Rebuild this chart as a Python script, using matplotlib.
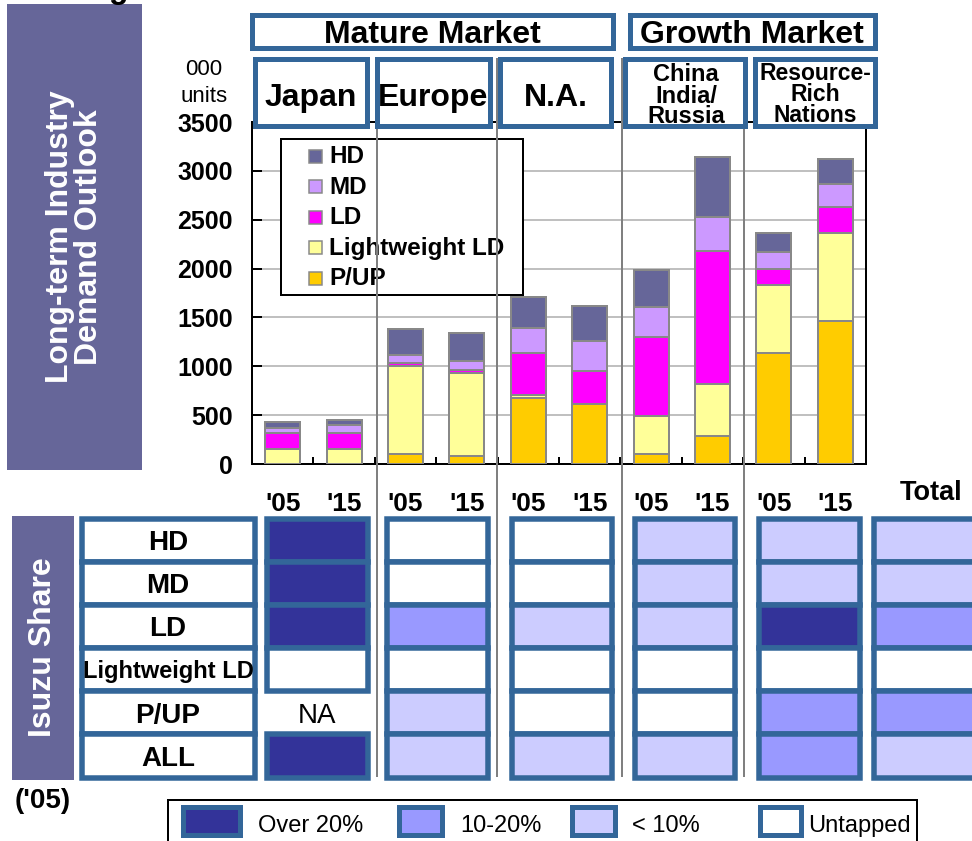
import numpy as np
import matplotlib
matplotlib.use("Agg")
import matplotlib.pyplot as plt
from matplotlib.patches import Rectangle

plt.rcParams['font.family'] = ['Liberation Sans', 'DejaVu Sans']

# ---------------- data ----------------
markets = ["Mature Market", "Growth Market"]
regions = ["Japan", "Europe", "N.A.", "China\nIndia/\nRussia", "Resource-\nRich\nNations"]
years = ["'05", "'15"]
segments = ["P/UP", "Lightweight LD", "LD", "MD", "HD"]          # bottom -> top
pup            = [0,   0,   102, 82,  672, 614, 102, 287,  1133, 1467]
lightweight_ld = [150, 150, 901, 853, 34,  0,   389, 532,  699,  901]
ld             = [170, 170, 28,  27,  433, 341, 806, 1364, 167,  259]
md             = [52,  76,  82,  95,  250, 304, 313, 348,  168,  239]
hd             = [61,  57,  266, 287, 323, 358, 376, 614,  201,  259]
seg_colors = ['#FFCC00', '#FFFF99', '#FF00FF', '#CC99FF', '#666699']

share_rows = ["HD", "MD", "LD", "Lightweight LD", "P/UP", "ALL"]
# 3 = Over 20%, 2 = 10-20%, 1 = < 10%, 0 = Untapped, None = NA
share_japan    = [3, 3, 3, 0, None, 3]
share_europe   = [0, 0, 2, 0, 1, 1]
share_na       = [0, 0, 1, 0, 0, 1]
share_china    = [1, 1, 1, 0, 0, 1]
share_resource = [1, 1, 3, 0, 2, 2]
share_total    = [1, 1, 2, 0, 2, 1]
share_levels = ["Untapped", "< 10%", "10-20%", "Over 20%"]
level_colors = ['#FFFFFF', '#CCCCFF', '#9999FF', '#333399']

# ---------------- figure ----------------
W, H = 972, 841
PT = 0.72  # points per pixel at dpi 100
BLUE = '#336699'
PURPLE = '#666699'
fig = plt.figure(figsize=(W / 100, H / 100), dpi=100)


def rect_px(l, t, r, b):
    return [l / W, 1 - b / H, (r - l) / W, (b - t) / H]


# ---------- bar chart ----------
ax = fig.add_axes(rect_px(252, 122, 866, 464))
data = [pup, lightweight_ld, ld, md, hd]
x = np.arange(len(pup))
bottom = np.zeros(len(pup))
for name, vals, c in zip(segments, data, seg_colors):
    vals = np.array(vals, dtype=float)
    ax.bar(x, vals, 0.57, bottom=bottom, color=c, edgecolor='#888888',
           linewidth=2 * PT, zorder=3, label=name)
    bottom += vals
ax.set_xlim(-0.5, len(pup) - 0.5)
ax.set_ylim(0, 3500)
yt = np.arange(0, 3501, 500)
ax.set_yticks(yt, labels=[str(v) for v in yt], fontsize=18, fontweight='bold')
ax.tick_params(axis='y', direction='in', length=7, width=2 * PT, pad=14)
bounds = np.arange(0.5, len(pup) - 1, 1.0)
ax.set_xticks(bounds, labels=[''] * len(bounds))
ax.set_xticks(x, labels=years * len(regions), minor=True, fontsize=19, fontweight='bold')
ax.tick_params(axis='x', which='major', direction='in', length=5, width=2 * PT)
ax.tick_params(axis='x', which='minor', length=0, pad=20)
ax.grid(axis='y', color='#C0C0C0', linewidth=2 * PT)
ax.set_axisbelow(True)
for s in ax.spines.values():
    s.set_linewidth(2 * PT)
    s.set_color('black')

# ---------- overlay in pixel coordinates ----------
ov = fig.add_axes([0, 0, 1, 1])
ov.set_xlim(0, W)
ov.set_ylim(H, 0)
ov.axis('off')


def box(l, t, r, b, fc='white', ec=BLUE, lw_px=5, z=3):
    h = lw_px / 2
    ov.add_patch(Rectangle((l + h, t + h), r - l - 2 * h, b - t - 2 * h,
                           facecolor=fc, edgecolor=ec, linewidth=lw_px * PT, zorder=z))


# left title panels
ov.add_patch(Rectangle((7, 4), 135, 466, facecolor=PURPLE, edgecolor='none', zorder=1))
ov.text(74.5, 237, "Long-term Industry\nDemand Outlook", rotation=90, color='white',
        fontsize=23, fontweight='bold', ha='center', va='center',
        multialignment='center', linespacing=0.95, zorder=2)
ov.text(118, -2, "g", fontsize=23, fontweight='bold', ha='center', va='baseline', zorder=2)

ov.add_patch(Rectangle((11.7, 516), 62.6, 264, facecolor=PURPLE, edgecolor='none', zorder=1))
ov.text(43, 647, "Isuzu Share", rotation=90, color='white', fontsize=23,
        fontweight='bold', ha='center', va='center', zorder=2)

# units label
ov.text(204, 75, "000", fontsize=16, ha='center', va='baseline')
ov.text(204, 101.7, "units", fontsize=16, ha='center', va='baseline')

# bar chart legend
ov.add_patch(Rectangle((281, 138.5), 242, 156.5, facecolor='white', edgecolor='black',
                       linewidth=2 * PT, zorder=1))
for i, (name, c) in enumerate(zip(segments[::-1], seg_colors[::-1])):
    base = 163 + 30.5 * i
    ov.add_patch(Rectangle((308.5, base - 13.5), 13, 13, facecolor=c, edgecolor='#888888',
                           linewidth=1.5 * PT, zorder=1.5))
    ov.text(329, base, name, fontsize=17.5, fontweight='bold', ha='left', va='baseline', zorder=1.5)

# separator lines
for xs in [376.7, 496.7, 621.7, 744.3]:
    ov.plot([xs, xs], [58, 777], color='#808080', linewidth=2 * PT, zorder=2,
            solid_capstyle='butt')

# market headers
box(249, 12, 615, 50)
box(627, 12, 877, 50)
ov.text(432, 42.7, markets[0], fontsize=23, fontweight='bold', ha='center', va='baseline', zorder=4)
ov.text(752, 42.7, markets[1], fontsize=23, fontweight='bold', ha='center', va='baseline', zorder=4)

# region headers
reg_boxes = [(252, 369), (374, 492), (497, 613), (622, 747), (752, 877)]
for (l, r) in reg_boxes:
    box(l, 56, r, 128)
ov.text(311, 106, regions[0], fontsize=23, fontweight='bold', ha='center', va='baseline', zorder=4)
ov.text(433, 106, regions[1], fontsize=23, fontweight='bold', ha='center', va='baseline', zorder=4)
ov.text(556, 106, regions[2], fontsize=23, fontweight='bold', ha='center', va='baseline', zorder=4)
for line, yb in zip(regions[3].split('\n'), [81, 103, 123.3]):
    ov.text(686, yb, line, fontsize=17, fontweight='bold', ha='center', va='baseline', zorder=4)
for line, yb in zip(regions[4].split('\n'), [80, 100.5, 121.7]):
    ov.text(815, yb, line, fontsize=16.5, fontweight='bold', ha='center', va='baseline', zorder=4)

# Total header
ov.text(931, 500, "Total", fontsize=19.5, fontweight='bold', ha='center', va='baseline')

# ---------- share table ----------
row_edges = np.linspace(518.5, 777.5, len(share_rows) + 1)
cols = [(79, 257), (264, 370), (384, 490), (509, 614), (632, 737), (756, 862), (871, 985)]
TLW = 5.5 * PT
# label column
l, r = cols[0]
for i, name in enumerate(share_rows):
    t, b = row_edges[i], row_edges[i + 1]
    ov.add_patch(Rectangle((l + 2.5, t), r - l - 5, b - t, facecolor='white', edgecolor=BLUE,
                           linewidth=TLW, zorder=3))
    fs = 17 if name == "Lightweight LD" else 20
    ov.text((l + r) / 2, (t + b) / 2 + 0.716 * fs / PT / 2, name, fontsize=fs,
            fontweight='bold', ha='center', va='baseline', zorder=4)

share_data = [share_japan, share_europe, share_na, share_china, share_resource, share_total]
for (l, r), vals in zip(cols[1:], share_data):
    for i, v in enumerate(vals):
        t, b = row_edges[i], row_edges[i + 1]
        if v is None:
            ov.text((l + r) / 2, (t + b) / 2 + 0.716 * 20 / PT / 2, "NA", fontsize=20,
                    ha='center', va='baseline', zorder=4)
            continue
        ov.add_patch(Rectangle((l + 2.5, t), r - l - 5, b - t, facecolor=level_colors[v],
                               edgecolor=BLUE, linewidth=TLW, zorder=3))

ov.text(43, 801, "('05)", fontsize=20, fontweight='bold', ha='center', va='center')

# ---------- share legend ----------
ov.add_patch(Rectangle((168, 800), 749, 60, facecolor='white', edgecolor='black',
                       linewidth=2 * PT, zorder=1))
leg_items = [(3, 180, 242, 258), (2, 396, 444, 460), (1, 569, 617, 632), (0, 757, 803, 808)]
for lv, sl, sr, tx in leg_items:
    box(sl, 804, sr, 837, fc=level_colors[lv], lw_px=5, z=2)
    ov.text(tx, 831.7, share_levels[lv], fontsize=17, ha='left', va='baseline', zorder=3)

fig.savefig("out.png", dpi=100)
